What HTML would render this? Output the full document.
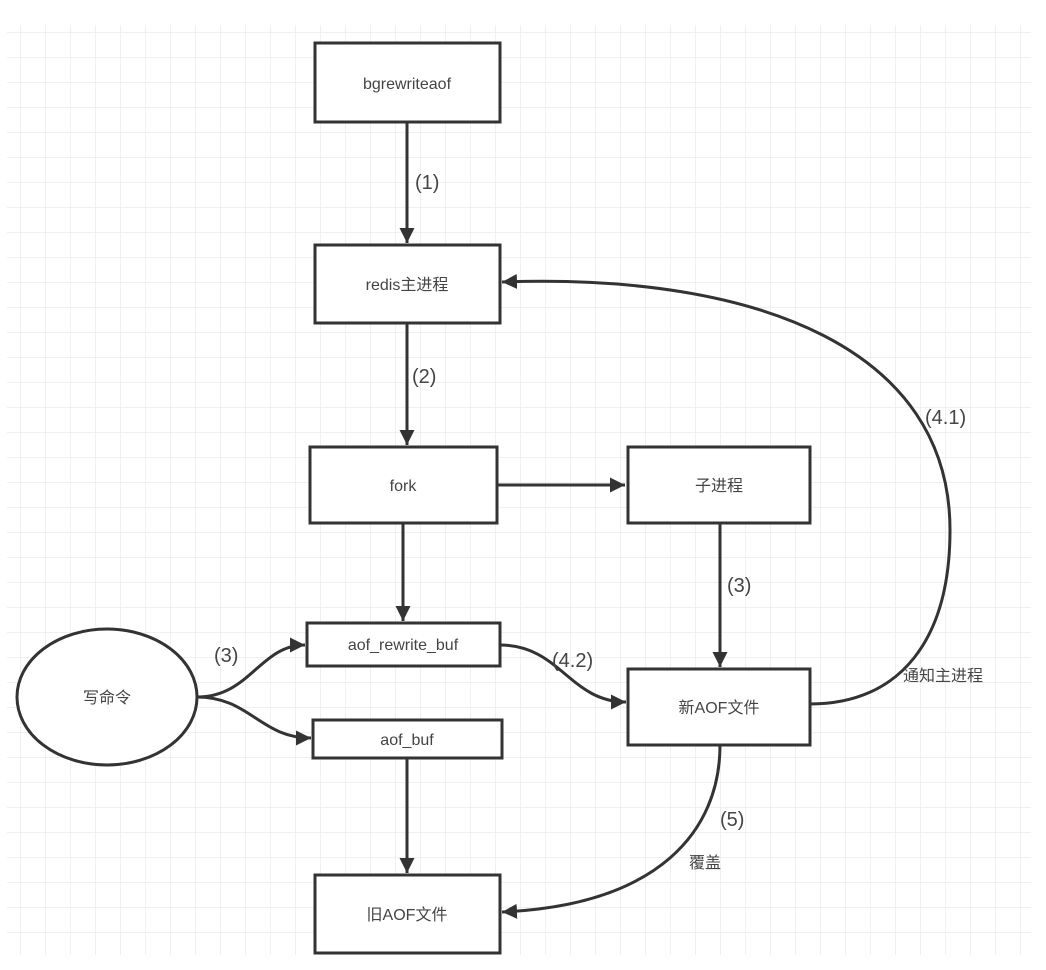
<!DOCTYPE html>
<html><head><meta charset="utf-8"><style>
html,body{margin:0;padding:0;background:#fff;}
svg{display:block;}
text{font-family:"Liberation Sans","Noto Sans CJK SC",sans-serif;fill:#444;}
</style></head><body>
<svg width="1046" height="970" viewBox="0 0 1046 970" xmlns="http://www.w3.org/2000/svg">
<defs>
<pattern id="g" x="20" y="32" width="25" height="25" patternUnits="userSpaceOnUse">
<path d="M0 0V25M0 0H25" stroke="#ebebeb" stroke-width="1.5" fill="none"/>
</pattern>
<marker id="a" viewBox="0 0 10 10" refX="10" refY="5" markerWidth="5" markerHeight="5" orient="auto" markerUnits="strokeWidth">
<path d="M0 0L10 5L0 10z" fill="#333"/>
</marker>
</defs>
<rect x="7" y="25" width="1024" height="930" fill="url(#g)"/>
<g fill="#fff" stroke="#333" stroke-width="3">
<rect x="315" y="43" width="185" height="79"/>
<rect x="315" y="245" width="185" height="78"/>
<rect x="310" y="447" width="187" height="76"/>
<rect x="628" y="447" width="182" height="76"/>
<rect x="307" y="623" width="193" height="43"/>
<rect x="313" y="720" width="189" height="38"/>
<rect x="315" y="875" width="185" height="78"/>
<rect x="628" y="669" width="182" height="76"/>
<ellipse cx="107" cy="697" rx="90" ry="68"/>
</g>
<g stroke="#333" stroke-width="3" fill="none" marker-end="url(#a)">
<path d="M407 122V243"/>
<path d="M407 323V445"/>
<path d="M403 523V621"/>
<path d="M497 485H625"/>
<path d="M720 523V667"/>
<path d="M407 758V873"/>
<path d="M197 697C250 697 260 645 305 645"/>
<path d="M197 697C250 697 260 738 311 738"/>
<path d="M500 645C560 645 570 702 626 702"/>
<path d="M810 704C900 704 950 640 950 530C950 350 760 273 502 282"/>
<path d="M720 745C720 830 660 905 502 912"/>
</g>
<g font-size="16" text-anchor="middle">
<text x="407" y="89">bgrewriteaof</text>
<text x="407" y="290">redis主进程</text>
<text x="403" y="491">fork</text>
<text x="719" y="491">子进程</text>
<text x="403" y="650">aof_rewrite_buf</text>
<text x="407" y="745">aof_buf</text>
<text x="407" y="920">旧AOF文件</text>
<text x="719" y="713">新AOF文件</text>
<text x="107" y="703">写命令</text>
</g>
<g font-size="20">
<text x="415" y="189">(1)</text>
<text x="412" y="383">(2)</text>
<text x="727" y="592">(3)</text>
<text x="214" y="662">(3)</text>
<text x="552" y="667">(4.2)</text>
<text x="925" y="424">(4.1)</text>
<text x="720" y="826">(5)</text>
</g>
<g font-size="16">
<text x="903" y="681">通知主进程</text>
<text x="689" y="868">覆盖</text>
</g>
</svg>
</body></html>
